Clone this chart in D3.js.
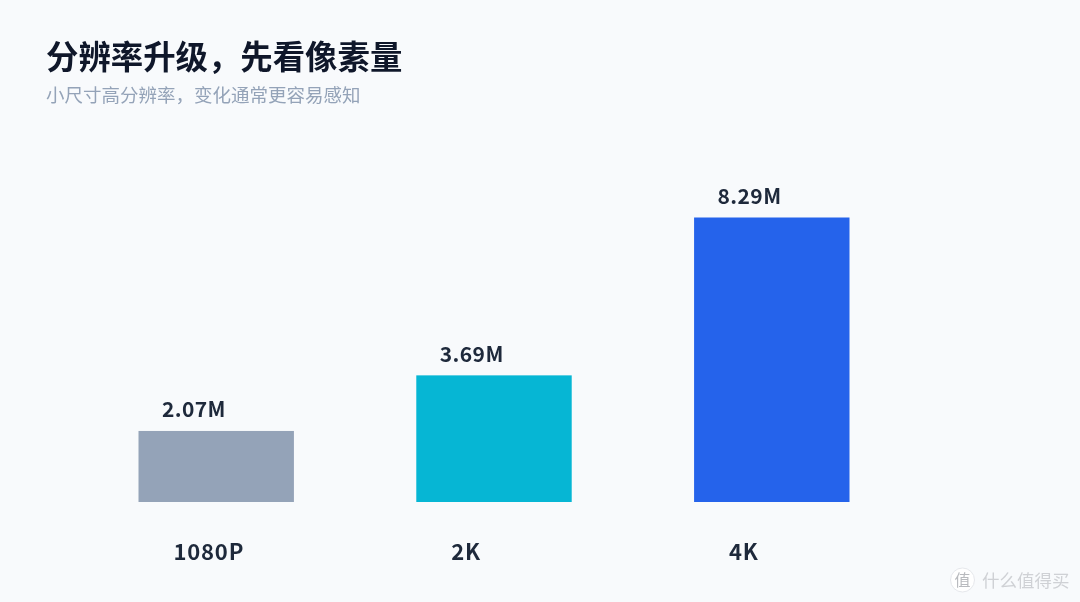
<!DOCTYPE html>
<html><head><meta charset="utf-8">
<script src="https://cdn.jsdelivr.net/npm/d3@7/dist/d3.min.js"></script>
<style>
html,body{margin:0;padding:0;background:#f8fafc;overflow:hidden}
svg{display:block;filter:blur(0.5px)}
text{font-family:"Noto Sans CJK SC","Noto Sans",sans-serif}
</style></head><body><svg id="c" width="1080" height="602"></svg>
<script>
const categories = ["1080P", "2K", "4K"];
const values = [2.07, 3.69, 8.29];
const valueLabels = ["2.07M", "3.69M", "8.29M"];
const colors = ["#94a3b8", "#06b6d4", "#2563eb"];
const titleText = "分辨率升级，先看像素量";
const subtitleText = "小尺寸高分辨率，变化通常更容易感知";

const svg = d3.select("#c");
const x = d3.scaleBand().domain(categories).range([138.5, 849.5]).paddingInner(0.4405).paddingOuter(0);
const y = d3.scaleLinear().domain([0, 8.29]).range([502, 217.5]);

svg.append("text").attr("x", 46).attr("y", 69).attr("font-size", 32.4).attr("font-weight", 700)
  .attr("fill", "#0f172a").text(titleText);
svg.append("text").attr("x", 46).attr("y", 102).attr("font-size", 18.5).attr("font-weight", 400)
  .attr("fill", "#94a3b8").text(subtitleText);

svg.selectAll("rect.bar").data(categories).join("rect").attr("class", "bar")
  .attr("x", d => x(d)).attr("width", x.bandwidth())
  .attr("y", (d, i) => y(values[i])).attr("height", (d, i) => y(0) - y(values[i]))
  .attr("fill", (d, i) => colors[i]);

svg.selectAll("text.val").data(categories).join("text").attr("class", "val")
  .attr("x", d => x(d) + 23.5).attr("y", (d, i) => y(values[i]) - 13.5)
  .attr("font-size", 21).attr("font-weight", 700).attr("letter-spacing", 0.4).attr("fill", "#1e293b")
  .text((d, i) => valueLabels[i]);

const axis = svg.append("g").attr("transform", "translate(0,502)")
  .call(d3.axisBottom(x).tickSize(0).tickPadding(0));
axis.select(".domain").remove();
axis.selectAll("text").attr("text-anchor", "start")
  .attr("dy", 0).attr("x", -x.bandwidth() / 2 + 35).attr("y", 58)
  .attr("font-size", 22).attr("font-weight", 700).attr("letter-spacing", 0.8).attr("fill", "#1e293b")
  .style("font-family", '"Noto Sans CJK SC","Noto Sans",sans-serif');

const wm = svg.append("g");
wm.append("circle").attr("cx", 962.5).attr("cy", 580).attr("r", 12).attr("fill", "#ffffff").attr("stroke", "#e5e7eb");
wm.append("text").attr("x", 962.5).attr("y", 586).attr("text-anchor", "middle").attr("font-size", 16).attr("fill", "#b8babe").text("值");
wm.append("text").attr("x", 982).attr("y", 587).attr("font-size", 17.5).attr("fill", "#cfd1d5").text("什么值得买");
</script></body></html>
